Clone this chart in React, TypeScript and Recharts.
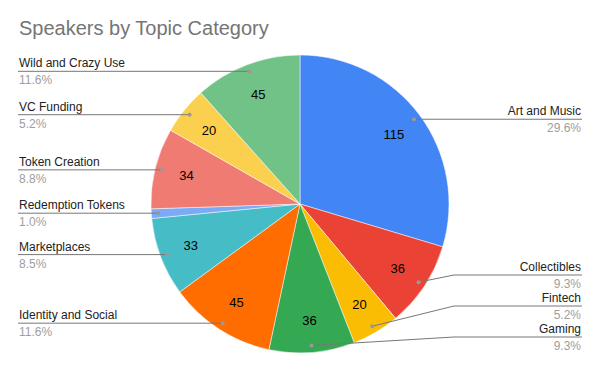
import React from 'react';
import { PieChart, Pie, Cell } from 'recharts';

const categories = [
  'Art and Music', 'Collectibles', 'Fintech', 'Gaming', 'Identity and Social',
  'Marketplaces', 'Redemption Tokens', 'Token Creation', 'VC Funding', 'Wild and Crazy Use',
];
const speakers = [115, 36, 20, 36, 45, 33, 4, 34, 20, 45];
const colors = [
  '#4285F4', '#EA4335', '#FBBC04', '#34A853', '#FF6D01',
  '#46BDC6', '#7BAAF7', '#F07B72', '#FCD04F', '#71C287',
];

const data = categories.map((name, i) => ({ name, value: speakers[i] }));
const total = speakers.reduce((a, b) => a + b, 0);

const CX = 300;
const CY = 204;
const R = 149;
const DOT_R = 142;
const GAP = 31;
const MIN_Y = 60;
const MAX_Y = 337;
const RADIAN = Math.PI / 180;
const FONT = '"Liberation Sans", Arial, sans-serif';

// place each outside label at its dot height, pushing apart the crowded ones
function layoutLabels() {
  let cum = 0;
  const items = speakers.map((v, i) => {
    const mid = ((cum + v / 2) / total) * 360;
    cum += v;
    const dotY = CY - DOT_R * Math.cos(mid * RADIAN);
    return { i, right: Math.sin(mid * RADIAN) > 0, y: dotY };
  });
  const out: number[] = new Array(speakers.length).fill(0);
  [true, false].forEach((side) => {
    const s = items.filter((it) => it.right === side).sort((a, b) => a.y - b.y);
    const ys = s.map((it) => it.y);
    for (let k = 0; k < ys.length; k++) {
      if (k === 0) ys[k] = Math.max(ys[k], MIN_Y);
      else ys[k] = Math.max(ys[k], ys[k - 1] + GAP);
    }
    if (ys.length && ys[ys.length - 1] > MAX_Y) ys[ys.length - 1] = MAX_Y;
    for (let k = ys.length - 2; k >= 0; k--) ys[k] = Math.min(ys[k], ys[k + 1] - GAP);
    s.forEach((it, k) => { out[it.i] = ys[k]; });
  });
  return out;
}
const labelY = layoutLabels();

function SliceLabel(props: any) {
  const { cx, cy, midAngle, outerRadius, index, value, name } = props;
  const cos = Math.cos(-midAngle * RADIAN);
  const sin = Math.sin(-midAngle * RADIAN);
  const vr = outerRadius * 0.785;
  const vx = cx + vr * cos;
  const vy = cy + vr * sin;
  const dr = outerRadius - 7;
  const dx = cx + dr * cos;
  const dy = cy + dr * sin;
  const right = cos > 0;
  const ly = labelY[index];
  const elbowX = right ? cx + outerRadius + 5 : cx - outerRadius - 5;
  const endX = right ? 582 : 18;
  const pts = Math.abs(ly - dy) < 1
    ? `${dx},${dy} ${endX},${dy}`
    : `${dx},${dy} ${elbowX},${ly} ${endX},${ly}`;
  const lineY = Math.abs(ly - dy) < 1 ? dy : ly;
  const tx = right ? 581 : 19;
  const anchor = right ? 'end' : 'start';
  const pct = ((value / total) * 100).toFixed(1) + '%';
  return (
    <g>
      {value >= 10 && (
        <text x={vx} y={vy} fill="#000" fontSize={13} fontFamily={FONT} textAnchor="middle" dominantBaseline="central">
          {value}
        </text>
      )}
      <polyline points={pts} fill="none" stroke="#777" strokeWidth={1} />
      <circle cx={dx} cy={dy} r={2} fill="#999" />
      <text x={tx} y={lineY - 4} fill="#222" fontSize={12} fontFamily={FONT} textAnchor={anchor}>{name}</text>
      <text x={tx} y={lineY + 13} fill="#9e9e9e" fontSize={12} fontFamily={FONT} textAnchor={anchor}>{pct}</text>
    </g>
  );
}

export default function App() {
  return (
    <div style={{ position: 'absolute', left: 0, top: 0, width: 600, height: 371, background: '#fff' }}>
      <div style={{ position: 'absolute', left: 19, top: 16, fontFamily: FONT, fontSize: 20, color: '#757575', lineHeight: '24px' }}>
        Speakers by Topic Category
      </div>
      <PieChart width={600} height={371} margin={{ top: 0, right: 0, bottom: 0, left: 0 }}>
        <Pie
          data={data}
          dataKey="value"
          nameKey="name"
          cx={CX}
          cy={CY}
          outerRadius={R}
          startAngle={90}
          endAngle={-270}
          stroke="#fff"
          strokeWidth={0.5}
          labelLine={false}
          label={SliceLabel}
          isAnimationActive={false}
        >
          {data.map((_, i) => <Cell key={i} fill={colors[i]} />)}
        </Pie>
      </PieChart>
    </div>
  );
}
